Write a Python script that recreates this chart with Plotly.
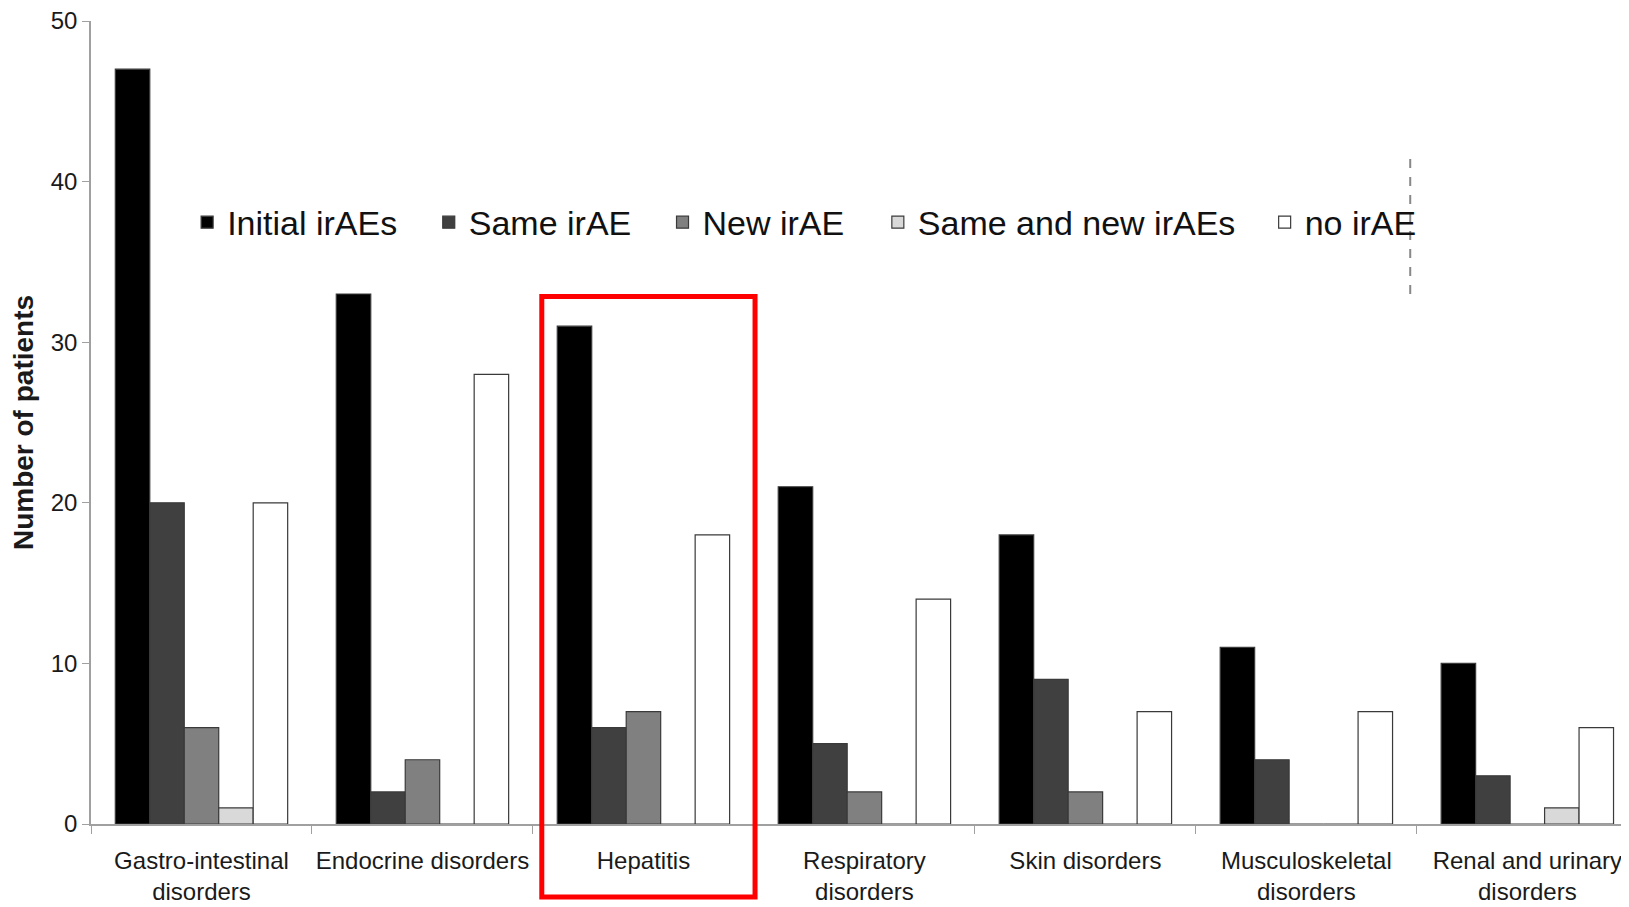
import plotly.graph_objects as go

categories = ["Gastro-intestinal<br>disorders", "Endocrine disorders", "Hepatitis",
              "Respiratory<br>disorders", "Skin disorders", "Musculoskeletal<br>disorders",
              "Renal and urinary<br>disorders"]
series_names = ["Initial irAEs", "Same irAE", "New irAE", "Same and new irAEs", "no irAE"]
initial = [47, 33, 31, 21, 18, 11, 10]
same = [20, 2, 6, 5, 9, 4, 3]
new = [6, 4, 7, 2, 2, 0, 0]
same_and_new = [1, 0, 0, 0, 0, 0, 1]
no_irae = [20, 28, 18, 14, 7, 7, 6]
colors = ["#000000", "#404040", "#808080", "#d9d9d9", "#ffffff"]
legend_x = [0.0625, 0.2196, 0.3716, 0.5116, 0.7631]

legend_ids = ["legend", "legend2", "legend3", "legend4", "legend5"]
fig = go.Figure()
for name, vals, col, lid in zip(series_names, [initial, same, new, same_and_new, no_irae], colors, legend_ids):
    fig.add_trace(go.Bar(x=categories, y=vals, name=name, legend=lid,
                         marker=dict(color=col, line=dict(color="#3a3a3a", width=1.2))))

W, H = 1629, 907
ml, mr, mt, mb = 83, 8, 13, 91
leg_font = dict(family="Liberation Sans, Arial", size=34, color="#111111")
layout_legends = {}
for lid, lx in zip(legend_ids, legend_x):
    layout_legends[lid] = dict(orientation="h", x=lx, y=0.749, xanchor="left", yanchor="middle",
                               font=leg_font, bgcolor="rgba(0,0,0,0)", itemwidth=30)
fig.update_layout(
    width=W, height=H,
    margin=dict(l=ml, r=mr, t=mt, b=mb, autoexpand=False),
    paper_bgcolor="white", plot_bgcolor="white",
    barmode="group", bargap=0.22, bargroupgap=0,
    showlegend=True,
    font=dict(family="Liberation Sans, Arial", color="#1a1a1a"),
    **layout_legends,
)
fig.update_xaxes(range=[-0.5, 6.46], showline=True, linecolor="#a0a0a0", linewidth=1.5,
                 ticks="outside", tickson="boundaries", ticklen=8, tickcolor="#a0a0a0",
                 tickfont=dict(family="Liberation Sans, Arial", size=24, color="#1a1a1a"),
                 ticklabelstandoff=14, showgrid=False, tickangle=0, automargin=False)
fig.update_yaxes(range=[0, 50], tickvals=[0, 10, 20, 30, 40, 50], showline=True, linecolor="#a0a0a0",
                 linewidth=1.5, ticks="outside", ticklen=7, tickcolor="#a0a0a0", showgrid=False,
                 zeroline=False, ticklabeloverflow="allow", automargin=False,
                 tickfont=dict(family="Liberation Sans, Arial", size=24, color="#1a1a1a"),
                 title=dict(text="<b>Number of patients</b>", font=dict(family="Liberation Sans, Arial", size=28, color="#1a1a1a"), standoff=14))

# highlight box around Hepatitis
fig.add_shape(type="rect", xref="x", yref="paper", x0=1.54, x1=2.505, y0=-0.091, y1=0.657,
              line=dict(color="#ff0000", width=5), fillcolor="rgba(0,0,0,0)", layer="above")
# dashed legend border remnant
fig.add_shape(type="line", xref="x", yref="paper", x0=5.47, x1=5.47, y0=0.66, y1=0.832,
              line=dict(color="#888888", width=2, dash="dash"))

fig.write_html("out.html")
